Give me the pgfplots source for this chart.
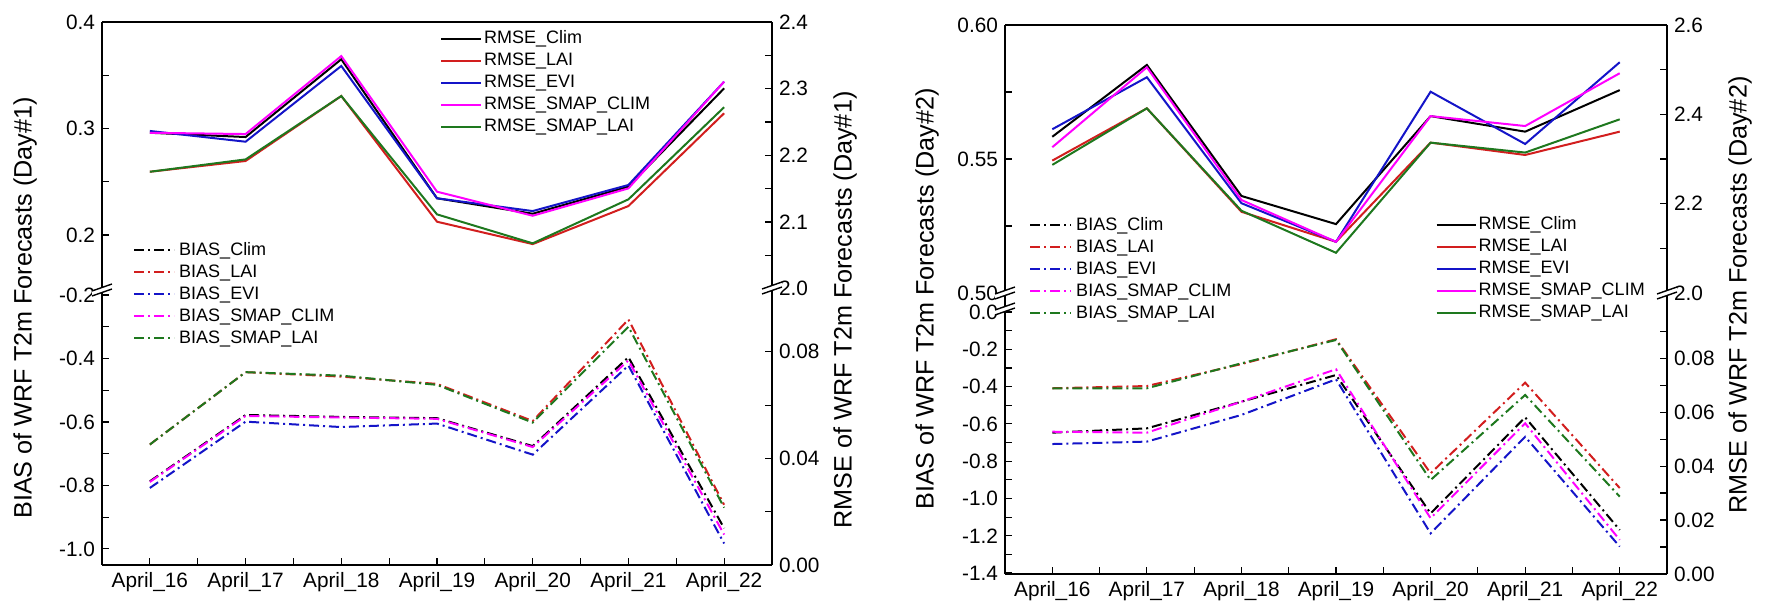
\documentclass[border=0pt]{standalone}
\usepackage{fontspec}
\setmainfont{Liberation Sans}
\usepackage{pgfplots}
\usepackage{pgfplotstable}
\pgfplotsset{compat=1.18}
\definecolor{cR}{RGB}{210,30,30}
\definecolor{cB}{RGB}{20,20,200}
\definecolor{cM}{RGB}{255,0,255}
\definecolor{cG}{RGB}{30,120,30}

% Day#1 RMSE (upper section, left-axis scale)
\pgfplotstableread{
x clim lai evi sclim slai
0 0.296  0.2594 0.2977 0.296  0.2594
1 0.292  0.2695 0.2876 0.2948 0.271
2 0.365  0.3305 0.3587 0.368  0.3305
3 0.2345 0.2125 0.2345 0.2407 0.2194
4 0.220  0.1915 0.2225 0.2181 0.1922
5 0.2454 0.2272 0.247  0.2438 0.2335
6 0.3377 0.3143 0.344  0.344  0.32
}\dAup
% Day#1 BIAS
\pgfplotstableread{
x clim lai evi sclim slai
0 -0.787 -0.671 -0.808 -0.789 -0.671
1 -0.578 -0.443 -0.599 -0.581 -0.443
2 -0.584 -0.457 -0.616 -0.586 -0.454
3 -0.588 -0.480 -0.605 -0.590 -0.483
4 -0.676 -0.597 -0.703 -0.679 -0.602
5 -0.396 -0.277 -0.422 -0.406 -0.300
6 -0.935 -0.861 -0.983 -0.955 -0.870
}\dAlo
% Day#2 RMSE (upper section, left-axis scale)
\pgfplotstableread{
x clim lai evi sclim slai
0 0.5583 0.5494 0.5611 0.5544 0.5478
1 0.5851 0.5689 0.5805 0.5842 0.5689
2 0.5362 0.5303 0.5335 0.5347 0.5307
3 0.5257 0.5191 0.5191 0.5191 0.5150
4 0.5660 0.5561 0.5751 0.5660 0.5561
5 0.5602 0.5515 0.5556 0.5623 0.5524
6 0.5757 0.5602 0.5861 0.5820 0.5648
}\dBup
% Day#2 BIAS
\pgfplotstableread{
x clim lai evi sclim slai
0 -0.647 -0.409 -0.708 -0.642 -0.409
1 -0.624 -0.397 -0.695 -0.647 -0.409
2 -0.481 -0.279 -0.552 -0.481 -0.275
3 -0.338 -0.146 -0.361 -0.307 -0.150
4 -1.080 -0.865 -1.187 -1.106 -0.901
5 -0.565 -0.379 -0.669 -0.597 -0.445
6 -1.169 -0.944 -1.258 -1.222 -0.990
}\dBlo

\pgfplotsset{
  base/.style={scale only axis, xmin=-0.5, xmax=6.5, tick align=inside,
    major tick length=3.5pt, minor tick length=3.5pt,
    every tick/.style={black, line width=0.6pt},
    axis line style={line width=0.9pt},
    tick label style={font=\fontsize{10.4}{10.4}\selectfont},
    /pgf/number format/assume math mode=true,
    legend cell align=left, clip=false},
  p1/.style={yticklabel style={/pgf/number format/.cd,fixed,fixed zerofill,precision=1}},
  p2/.style={yticklabel style={/pgf/number format/.cd,fixed,fixed zerofill,precision=2}},
  rm/.style={line width=1pt, solid},
  bs/.style={line width=1pt, dash pattern=on 5pt off 2pt on 1pt off 2pt},
  leg/.style 2 args={legend style={draw=none, fill=none, inner sep=0pt,
      font=\fontsize{9}{9}\selectfont, row sep=2pt,
      nodes={inner sep=0pt, inner xsep=#2, text height=7pt, text depth=2pt}},
    legend image code/.code={\draw[##1] (0pt,0pt)--(#1,0pt);}},
  xlab/.style={xtick={0,...,6}, minor xtick={0.5,1.5,...,5.5},
    xticklabels={April\_16,April\_17,April\_18,April\_19,April\_20,April\_21,April\_22}},
}
\newcommand\brk[2]{\begin{scope}[shift={(#1,#2)}]
  \fill[white] (-5pt,-3pt)--(5pt,0.5pt)--(5pt,3pt)--(-5pt,-0.5pt)--cycle;
  \draw[line width=0.7pt] (-5pt,-3pt)--(5pt,0.5pt) (-5pt,-0.5pt)--(5pt,3pt);
\end{scope}}
\tikzset{ylab/.style={rotate=90, inner sep=0pt, font=\fontsize{12.6}{13}\selectfont}}

\begin{document}
\begin{tikzpicture}
\useasboundingbox (0,0) rectangle (882.5pt,302pt);
% ===================== Day#1 =====================
\begin{axis}[base, p1, leg={20pt}{1pt}, at={(51pt,157pt)}, anchor=south west,
  width=335pt, height=134pt, ymin=0.1484, ymax=0.4,
  axis x line*=top, axis y line*=left, xtick=\empty,
  ytick={0.2,0.3,0.4}, minor ytick={0.25,0.35},
  legend style={at={(0.504,0.972)}, anchor=north west}]
\addplot[rm, black] table[x=x,y=clim]{\dAup}; \addlegendentry{RMSE\_Clim}
\addplot[rm, cR] table[x=x,y=lai]{\dAup}; \addlegendentry{RMSE\_LAI}
\addplot[rm, cB] table[x=x,y=evi]{\dAup}; \addlegendentry{RMSE\_EVI}
\addplot[rm, cM] table[x=x,y=sclim]{\dAup}; \addlegendentry{RMSE\_SMAP\_CLIM}
\addplot[rm, cG] table[x=x,y=slai]{\dAup}; \addlegendentry{RMSE\_SMAP\_LAI}
\end{axis}
\begin{axis}[base, p1, at={(51pt,157pt)}, anchor=south west,
  width=335pt, height=134pt, ymin=1.998, ymax=2.4,
  axis x line=none, axis y line*=right,
  ytick={2.0,2.1,2.2,2.3,2.4}, minor ytick={2.05,2.15,2.25,2.35}]
\end{axis}
\begin{axis}[base, p1, xlab, leg={20pt}{2pt}, at={(51pt,19.5pt)}, anchor=south west,
  width=335pt, height=137.5pt, ymin=-1.0508, ymax=-0.184,
  axis x line*=bottom, axis y line*=left,
  ytick={-1.0,-0.8,-0.6,-0.4,-0.2}, minor ytick={-0.9,-0.7,-0.5,-0.3},
  legend style={at={(0.046,1.178)}, anchor=north west}]
\addplot[bs, black] table[x=x,y=clim]{\dAlo}; \addlegendentry{BIAS\_Clim}
\addplot[bs, cR] table[x=x,y=lai]{\dAlo}; \addlegendentry{BIAS\_LAI}
\addplot[bs, cB] table[x=x,y=evi]{\dAlo}; \addlegendentry{BIAS\_EVI}
\addplot[bs, cM] table[x=x,y=sclim]{\dAlo}; \addlegendentry{BIAS\_SMAP\_CLIM}
\addplot[bs, cG] table[x=x,y=slai]{\dAlo}; \addlegendentry{BIAS\_SMAP\_LAI}
\end{axis}
\begin{axis}[base, p2, at={(51pt,19.5pt)}, anchor=south west,
  width=335pt, height=137.5pt, ymin=0, ymax=0.1032,
  axis x line=none, axis y line*=right,
  ytick={0,0.04,0.08}, minor ytick={0.02,0.06}]
\end{axis}
\brk{51pt}{157pt}
\brk{386pt}{158pt}
\node[ylab] at (12.5pt,148pt) {BIAS of WRF T2m Forecasts (Day\#1)};
\node[ylab] at (422.5pt,147pt) {RMSE of WRF T2m Forecasts (Day\#1)};
% ===================== Day#2 =====================
\begin{axis}[base, p2, leg={19.5pt}{1pt}, at={(502.5pt,155.5pt)}, anchor=south west,
  width=331pt, height=134pt, ymin=0.5, ymax=0.6,
  axis x line*=top, axis y line*=left, xtick=\empty,
  ytick={0.5,0.55,0.6}, minor ytick={0.525,0.575},
  legend style={at={(0.65,0.289)}, anchor=north west}]
\addplot[rm, black] table[x=x,y=clim]{\dBup}; \addlegendentry{RMSE\_Clim}
\addplot[rm, cR] table[x=x,y=lai]{\dBup}; \addlegendentry{RMSE\_LAI}
\addplot[rm, cB] table[x=x,y=evi]{\dBup}; \addlegendentry{RMSE\_EVI}
\addplot[rm, cM] table[x=x,y=sclim]{\dBup}; \addlegendentry{RMSE\_SMAP\_CLIM}
\addplot[rm, cG] table[x=x,y=slai]{\dBup}; \addlegendentry{RMSE\_SMAP\_LAI}
\end{axis}
\begin{axis}[base, p1, at={(502.5pt,155.5pt)}, anchor=south west,
  width=331pt, height=134pt, ymin=2.0, ymax=2.6,
  axis x line=none, axis y line*=right,
  ytick={2.0,2.2,2.4,2.6}, minor ytick={2.1,2.3,2.5}]
\end{axis}
\begin{axis}[base, p1, xlab, leg={20.5pt}{2pt}, at={(502.5pt,15pt)}, anchor=south west,
  width=331pt, height=140.5pt, ymin=-1.405, ymax=0.102,
  axis x line*=bottom, axis y line*=left,
  ytick={-1.4,-1.2,-1.0,-0.8,-0.6,-0.4,-0.2,0},
  minor ytick={-1.3,-1.1,-0.9,-0.7,-0.5,-0.3,-0.1},
  legend style={at={(0.036,1.274)}, anchor=north west}]
\addplot[bs, black] table[x=x,y=clim]{\dBlo}; \addlegendentry{BIAS\_Clim}
\addplot[bs, cR] table[x=x,y=lai]{\dBlo}; \addlegendentry{BIAS\_LAI}
\addplot[bs, cB] table[x=x,y=evi]{\dBlo}; \addlegendentry{BIAS\_EVI}
\addplot[bs, cM] table[x=x,y=sclim]{\dBlo}; \addlegendentry{BIAS\_SMAP\_CLIM}
\addplot[bs, cG] table[x=x,y=slai]{\dBlo}; \addlegendentry{BIAS\_SMAP\_LAI}
\end{axis}
\begin{axis}[base, p2, at={(502.5pt,15pt)}, anchor=south west,
  width=331pt, height=140.5pt, ymin=0, ymax=0.1042,
  axis x line=none, axis y line*=right,
  ytick={0,0.02,0.04,0.06,0.08}, minor ytick={0.01,0.03,0.05,0.07,0.09}]
\end{axis}
\brk{502.5pt}{155.5pt}
\brk{502.5pt}{147.5pt}
\brk{833.5pt}{155.5pt}
\node[ylab] at (463.5pt,152.5pt) {BIAS of WRF T2m Forecasts (Day\#2)};
\node[ylab] at (870pt,154.5pt) {RMSE of WRF T2m Forecasts (Day\#2)};
\end{tikzpicture}
\end{document}
